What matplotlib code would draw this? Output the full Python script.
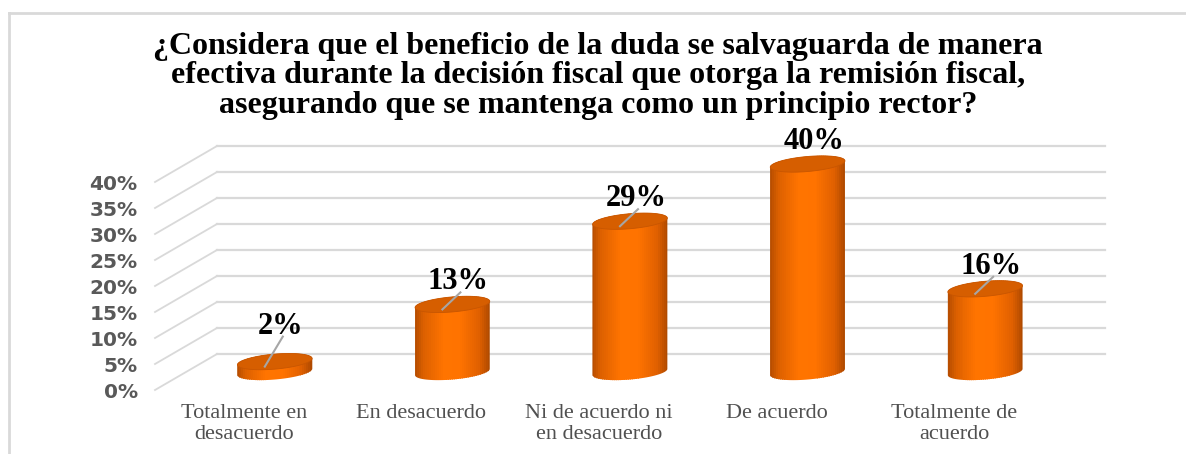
import matplotlib
matplotlib.use('Agg')
import matplotlib.pyplot as plt
from matplotlib.patches import Polygon, Rectangle
from matplotlib.lines import Line2D
from matplotlib.colors import LinearSegmentedColormap
from matplotlib.transforms import Affine2D, ScaledTranslation, IdentityTransform
import numpy as np

# datos
titulo = ('¿Considera que el beneficio de la duda se salvaguarda de manera\n'
          'efectiva durante la decisión fiscal que otorga la remisión fiscal,\n'
          'asegurando que se mantenga como un principio rector?')
categorias = ['Totalmente en\ndesacuerdo', 'En desacuerdo', 'Ni de acuerdo ni\nen desacuerdo',
              'De acuerdo', 'Totalmente de\nacuerdo']
porcentajes = [2, 13, 29, 40, 16]
marcas = [0, 5, 10, 15, 20, 25, 30, 35, 40]

W, H = 1186, 454
fig = plt.figure(figsize=(W / 100, H / 100), dpi=100)
ax = fig.add_axes([155 / W, 64 / H, 888 / W, 208 / H])
ax.set_xlim(-0.5, len(categorias) - 0.5)
ax.set_ylim(0, 40)
for s in ax.spines.values():
    s.set_visible(False)
ax.patch.set_alpha(0)

ax.set_yticks(marcas)
ax.set_yticklabels(['%d%%' % m for m in marcas], fontsize=14.5, fontweight='bold',
                   color='#595959', family='DejaVu Sans')
ax.tick_params(axis='y', length=0, pad=12.5)
ax.set_xticks(range(len(categorias)))
ax.set_xticklabels(categorias, family='Liberation Serif', fontsize=16,
                   color='#505050', linespacing=1.12)
ax.tick_params(axis='x', length=0, pad=10)

# profundidad (pixeles) de la pared del fondo
PX, PY = 62, 36
fondo = ax.transData + Affine2D().translate(PX, PY)
medio = ax.transData + Affine2D().translate(PX / 2, PY / 2)
gris = '#d9d9d9'

# cuadricula en perspectiva
for m in marcas:
    ax.plot([-0.5, len(categorias) - 0.5], [m, m], color=gris, lw=1.6,
            transform=fondo, clip_on=False, zorder=1)
    tr = Affine2D() + ScaledTranslation(-0.5, m, ax.transData)
    ax.plot([0, PX], [0, PY], color=gris, lw=1.3, transform=tr, clip_on=False, zorder=1)

# cilindros
cmap = LinearSegmentedColormap.from_list('cil', [
    (0.0, '#b04a00'), (0.12, '#dc6000'), (0.38, '#ff7400'),
    (0.6, '#ff7300'), (0.85, '#e06000'), (1.0, '#a84700')])
a, b, ang = 37.5, 7.5, np.deg2rad(5)
rot = np.array([[np.cos(ang), -np.sin(ang)], [np.sin(ang), np.cos(ang)]])


def elipse(t0, t1, dy):
    t = np.linspace(t0, t1, 60)
    p = rot @ np.vstack([a * np.cos(t), b * np.sin(t)])
    return np.column_stack([p[0], p[1] + dy])


for i, v in enumerate(porcentajes):
    y0 = medio.transform((i, 0))[1]
    h = medio.transform((i, v))[1] - y0
    tb = Affine2D() + ScaledTranslation(i, 0, medio)
    pts = np.vstack([elipse(np.pi, 2 * np.pi, 0), elipse(0, np.pi, h)])
    cuerpo = Polygon(pts, closed=True, transform=tb, facecolor='none',
                     edgecolor='none', clip_on=False, zorder=3)
    ax.add_patch(cuerpo)
    n = 40
    xs = np.linspace(-a - 2, a + 2, n + 1)
    for k in range(n):
        r = Rectangle((xs[k], -b - 6), xs[k + 1] - xs[k] + 0.6, h + 2 * b + 12,
                      transform=tb, facecolor=cmap(k / (n - 1)), edgecolor='none',
                      zorder=3)
        ax.add_patch(r)
        r.set_clip_path(cuerpo)
        r.set_clip_box(None)
    tapa = Polygon(elipse(0, 2 * np.pi, h), closed=True, transform=tb,
                   facecolor='#d65e00', edgecolor='#c85600', lw=0.6,
                   clip_on=False, zorder=4)
    ax.add_patch(tapa)

    # etiqueta de datos con linea guia
    ly = max(v, 4.5)
    p0 = medio.transform((i, v)) + np.array([-10, -5])
    p1 = medio.transform((i, ly)) + np.array([8, 12])
    ax.add_line(Line2D([p0[0], p1[0]], [p0[1], p1[1]], color='#a6a6a6', lw=1.5,
                       transform=IdentityTransform(), zorder=5))
    tl = medio + Affine2D().translate(6, 15)
    ax.text(i, ly, '%d%%' % v, transform=tl, ha='center', va='baseline',
            fontsize=22, fontweight='bold', family='Liberation Serif',
            color='black', zorder=6)

fig.text(598 / W, 1 - 76 / H, titulo, ha='center', va='center', fontsize=23,
         fontweight='bold', family='Liberation Serif', linespacing=1.03)

# borde del grafico
fig.add_artist(Line2D([9 / W, 1], [1 - 13 / H, 1 - 13 / H], color=gris, lw=2))
fig.add_artist(Line2D([9 / W, 9 / W], [0, 1 - 13 / H], color=gris, lw=2))

fig.savefig('out.png', dpi=100)
